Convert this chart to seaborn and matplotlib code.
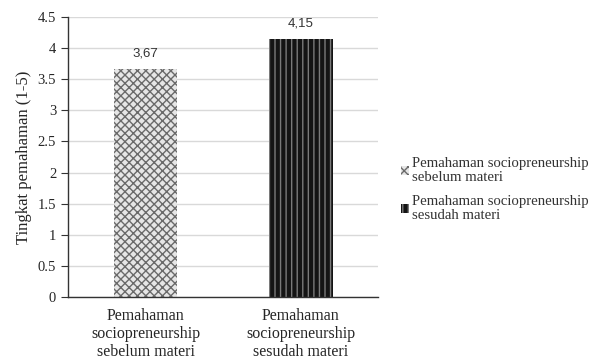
import pandas as pd
import seaborn as sns
import matplotlib.pyplot as plt
import matplotlib as mpl

# data
categories = ["Pemahaman\nsociopreneurship\nsebelum materi",
              "Pemahaman\nsociopreneurship\nsesudah materi"]
legend_labels = ["Pemahaman sociopreneurship\nsebelum materi",
                 "Pemahaman sociopreneurship\nsesudah materi"]
values = [3.67, 4.15]
value_text = ["3,67", "4,15"]

df = pd.DataFrame({"kategori": categories, "nilai": values})

sns.set_style("white")
plt.rcParams["font.family"] = ["Liberation Serif", "DejaVu Serif"]
mpl.rcParams["hatch.linewidth"] = 1.0

fig = plt.figure(figsize=(5.89, 3.61), dpi=100)
ax = fig.add_axes([0.1155, 0.177, 0.527, 0.776])

sns.barplot(data=df, x="kategori", y="nilai", hue="kategori", ax=ax,
            width=0.41, legend=False, saturation=1)

# pola isi batang
styles = [("#e6e6e6", "#6a6a6a", "xxxx"), ("#141414", "#7a7a7a", "|||")]
for patch, (fc, hc, h) in zip(ax.patches, styles):
    patch.set_facecolor(fc)
    patch.set_edgecolor(hc)
    patch.set_hatch(h)
    patch.set_linewidth(0)

for i, (v, t) in enumerate(zip(values, value_text)):
    ax.text(i, v + 0.15, t, ha="center", va="bottom", fontsize=9.5,
            family=["Liberation Sans", "DejaVu Sans"], color="#333333")

ax.set_ylim(0, 4.5)
ax.set_xlim(-0.5, 1.5)
ax.set_yticks([0, 0.5, 1, 1.5, 2, 2.5, 3, 3.5, 4, 4.5])
ax.set_yticklabels(["0", "0.5", "1", "1.5", "2", "2.5", "3", "3.5", "4", "4.5"])
ax.yaxis.grid(True, color="#d9d9d9", linewidth=1)
ax.set_axisbelow(True)

ax.set_xticks([-0.5, 0.5, 1.5], minor=True)
ax.tick_params(axis="x", which="major", length=0, labelsize=11.5, pad=8)
ax.tick_params(axis="x", which="minor", length=5, direction="out", color="#333333")
ax.tick_params(axis="y", length=5, direction="out", labelsize=10.5, color="#333333")
ax.tick_params(axis="y", left=True)
for lab in ax.get_xticklabels():
    lab.set_linespacing(1.15)

for s in ["top", "right"]:
    ax.spines[s].set_visible(False)
for s in ["left", "bottom"]:
    ax.spines[s].set_color("#333333")
    ax.spines[s].set_linewidth(1)

ax.set_xlabel("")
ax.set_ylabel("Tingkat pemahaman (1-5)", fontsize=12)

handles = [mpl.patches.Patch(facecolor=fc, edgecolor=hc, hatch=h, linewidth=0)
           for fc, hc, h in styles]
leg = fig.legend(handles, legend_labels, loc="center left",
                 bbox_to_anchor=(0.67, 0.475), borderaxespad=0,
                 frameon=False, fontsize=10.6, handlelength=0.6, handleheight=0.6,
                 handletextpad=0.15, labelspacing=0.75)
for t in leg.get_texts():
    t.set_linespacing(1.1)
    t.set_color("#333333")

fig.savefig("out.png", dpi=100)
